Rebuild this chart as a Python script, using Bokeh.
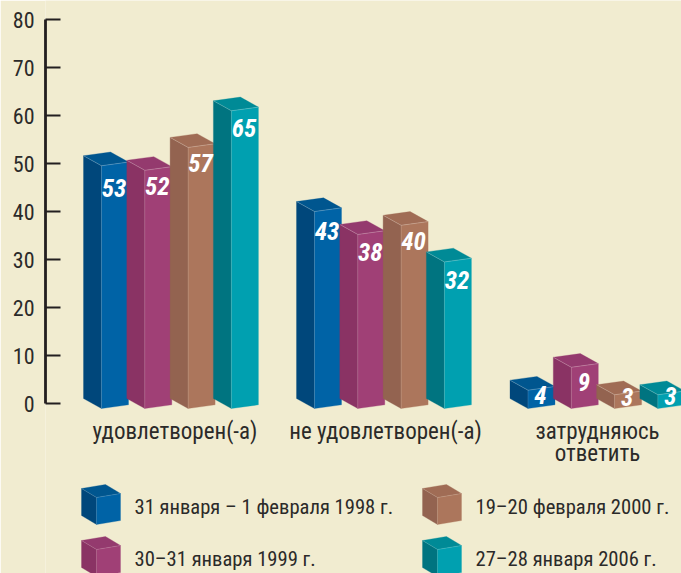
from bokeh.embed import file_html
from bokeh.resources import INLINE
from bokeh.plotting import figure
from bokeh.models import Range1d, LinearAxis, FixedTicker
from bokeh.core.properties import value

categories = ["удовлетворен(-а)", "не удовлетворен(-а)", "затрудняюсь\nответить"]
series_names = ["31 января – 1 февраля 1998 г.", "30–31 января 1999 г.",
                "19–20 февраля 2000 г.", "27–28 января 2006 г."]
v1998 = [53, 43, 4]
v1999 = [52, 38, 9]
v2000 = [57, 40, 3]
v2006 = [65, 32, 3]
ticks = [0, 10, 20, 30, 40, 50, 60, 70, 80]

series = [v1998, v1999, v2000, v2006]
colors = [  # front, side, top
    ("#0063A6", "#00477B", "#00568F"),
    ("#A04076", "#8A3364", "#943A6E"),
    ("#AC765C", "#936350", "#A06C55"),
    ("#00A0B0", "#007480", "#008A96"),
]
BG = "#F1ECD0"
INK = "#2B2A29"
FONT = "Roboto Condensed"

W, H = 681, 573
AXIS_X = 45
PX_AXIS = 4.8
Y0_AXIS = 403
PX_BAR = 4.58
Y0_BAR = 408

p = figure(width=W, height=H, output_backend="svg", toolbar_location=None,
           x_range=Range1d(AXIS_X, W),
           y_range=Range1d(-(H - Y0_AXIS) / PX_AXIS, Y0_AXIS / PX_AXIS),
           background_fill_color=BG, border_fill_color=BG,
           min_border_left=AXIS_X, min_border_right=0, min_border_top=0, min_border_bottom=0,
           outline_line_color=None, x_axis_location=None, y_axis_location=None)
p.grid.visible = False
p.extra_y_ranges = {"bars": Range1d(-(H - Y0_BAR) / PX_BAR, Y0_BAR / PX_BAR)}

axis = LinearAxis(ticker=FixedTicker(ticks=ticks), bounds=(0, 80))
axis.axis_line_color = "#231F20"
axis.axis_line_width = 2.8
axis.major_tick_line_color = "#231F20"
axis.major_tick_line_width = 2
axis.major_tick_in = 15
axis.major_tick_out = 0
axis.minor_tick_line_color = None
axis.major_label_text_font = FONT
axis.major_label_text_font_size = "22px"
axis.major_label_text_color = INK
axis.major_label_standoff = 11
p.add_layout(axis, "left")


def u(px):
    """Screen row -> value on the bars' scale."""
    return (Y0_BAR - px) / PX_BAR


DX, DY = 18.0, 10.0 / PX_BAR     # depth of the box
FW, FS = 27.0, 3.7 / PX_BAR      # width and slope of the front face
GROUP_X = [101.0, 314.0, 527.5]
PITCH = 43.3
EDGE = "#FFFFFF"


def box(x, base, height, fw, fs, dx, dy, cols, alpha=0.28):
    top = base + height
    p.patch([x - dx, x, x, x - dx], [base + dy, base, top, top + dy],
            y_range_name="bars", fill_color=cols[1], line_color=cols[1], line_width=0.3)
    p.patch([x - dx, x, x + fw, x + fw - dx], [top + dy, top, top + fs, top + fs + dy],
            y_range_name="bars", fill_color=cols[2], line_color=cols[2], line_width=0.3)
    p.patch([x, x + fw, x + fw, x], [base, base + fs, top + fs, top],
            y_range_name="bars", fill_color=cols[0], line_color=cols[0], line_width=0.3)
    p.line([x - dx, x, x + fw], [top + dy, top, top + fs], y_range_name="bars",
           line_color=EDGE, line_alpha=alpha, line_width=0.8)
    p.line([x, x], [top, base], y_range_name="bars",
           line_color=EDGE, line_alpha=alpha * 0.6, line_width=0.8)


for s, vals in enumerate(series):
    for g, v in enumerate(vals):
        box(GROUP_X[g] + s * PITCH, 0, v, FW, FS, DX, DY, colors[s])

# value labels, shifted below each box's front-top corner
label_drop = [[22, 19, 5], [16, 18, 15], [16, 16, 2], [17, 18, 1]]
for s, vals in enumerate(series):
    for g, v in enumerate(vals):
        cx = GROUP_X[g] + s * PITCH + FW / 2 - 1
        p.text([cx], [v - label_drop[s][g] / PX_BAR], text=[str(v)], y_range_name="bars",
               text_font=value(FONT), text_font_style="bold italic", text_font_size="25px",
               text_color="#FFFFFF", text_align="center", text_baseline="middle")

# category labels
cat_x = [174.5, 385, 597]
for cx, c in zip(cat_x, categories):
    p.text([cx], [u(417)], text=[c], y_range_name="bars",
           text_font=value(FONT), text_font_size="23px", text_color=INK,
           text_align="center", text_baseline="top", text_line_height=0.83)

# legend
leg_x = [96, 437]
leg_rows = [524, 576]
leg_text_x = [134, 475]
leg_pos = [(0, 0), (0, 1), (1, 0), (1, 1)]
for (col, row), name, cols in zip(leg_pos, series_names, colors):
    box(leg_x[col], u(leg_rows[row]), 27.0 / PX_BAR, 24, 4 / PX_BAR, 15, 9 / PX_BAR, cols, 0.18)
    p.text([leg_text_x[col]], [u(leg_rows[row] - 18)], text=[name], y_range_name="bars",
           text_font=value(FONT), text_font_size="20.6px", text_color=INK,
           text_align="left", text_baseline="middle")

html = file_html(p, INLINE)
html = html.replace("<body>", f'<body style="margin:0;background:{BG}">', 1)
open("out.html", "w").write(html)
